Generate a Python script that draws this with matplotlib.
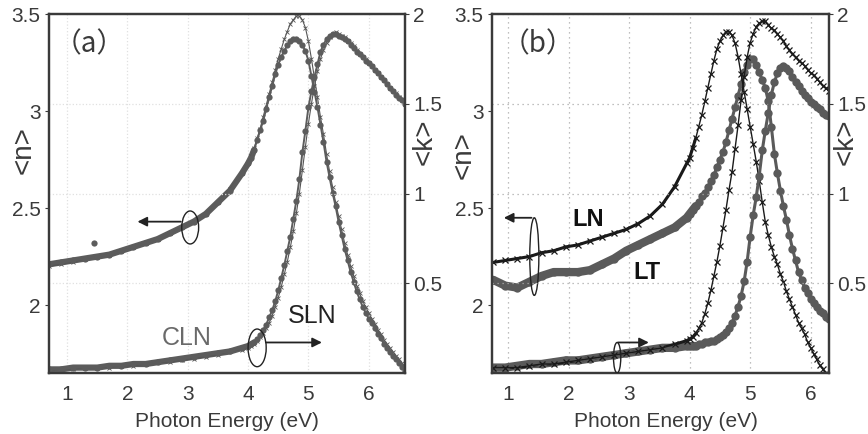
import numpy as np
import matplotlib
matplotlib.use("Agg")
import matplotlib.pyplot as plt
from matplotlib.patches import Ellipse

plt.rcParams['font.family'] = ['Liberation Sans', 'DejaVu Sans']

# ---------- data: panel (a) CLN / SLN ----------
E_a = np.concatenate([np.round(np.arange(0.7, 3.95, 0.2), 2),
                      np.round(np.arange(4.0, 6.601, 0.05), 2)])

n_cln = [2.21, 2.22, 2.23, 2.24, 2.25, 2.26, 2.28, 2.30, 2.32, 2.34, 2.37, 2.40, 2.43, 2.47, 2.53, 2.59, 2.68,
         2.73, 2.76, 2.80, 2.85, 2.90, 2.95, 3.01, 3.07, 3.13, 3.19,
         3.24, 3.28, 3.31, 3.34, 3.36, 3.37, 3.37, 3.36, 3.34, 3.31,
         3.26, 3.18, 3.10, 3.02, 2.93, 2.84, 2.74, 2.66, 2.58, 2.51,
         2.43, 2.36, 2.29, 2.23, 2.17, 2.12, 2.07, 2.03, 1.99, 1.96,
         1.93, 1.91, 1.88, 1.85, 1.83, 1.80, 1.78, 1.76, 1.74, 1.72,
         1.70, 1.68, 1.66]
n_sln = [2.20, 2.21, 2.22, 2.24, 2.25, 2.26, 2.28, 2.30, 2.32, 2.34, 2.37, 2.40, 2.43, 2.47, 2.53, 2.60, 2.68,
         2.73, 2.77, 2.81, 2.86, 2.91, 2.97, 3.03, 3.09, 3.15, 3.21,
         3.27, 3.32, 3.37, 3.41, 3.45, 3.47, 3.49, 3.49, 3.47, 3.43,
         3.36, 3.27, 3.17, 3.07, 2.97, 2.88, 2.78, 2.69, 2.61, 2.53,
         2.46, 2.39, 2.32, 2.26, 2.20, 2.15, 2.10, 2.06, 2.02, 1.99,
         1.96, 1.93, 1.90, 1.87, 1.85, 1.82, 1.80, 1.78, 1.76, 1.74,
         1.72, 1.70, 1.68]
k_cln = [0.02, 0.02, 0.03, 0.03, 0.03, 0.04, 0.04, 0.05, 0.05, 0.06, 0.07, 0.08, 0.09, 0.10, 0.11, 0.12, 0.14,
         0.15, 0.16, 0.17, 0.19, 0.21, 0.24, 0.27, 0.31, 0.35, 0.40,
         0.46, 0.53, 0.60, 0.68, 0.76, 0.86, 0.96, 1.08, 1.23, 1.35,
         1.48, 1.57, 1.65, 1.72, 1.79, 1.83, 1.86, 1.88, 1.89, 1.89,
         1.88, 1.87, 1.86, 1.85, 1.83, 1.81, 1.79, 1.78, 1.76, 1.74,
         1.73, 1.71, 1.69, 1.67, 1.65, 1.63, 1.61, 1.59, 1.57, 1.55,
         1.53, 1.52, 1.50]
k_sln = [0.01, 0.02, 0.02, 0.03, 0.03, 0.03, 0.04, 0.04, 0.05, 0.06, 0.06, 0.07, 0.08, 0.09, 0.10, 0.12, 0.13,
         0.14, 0.15, 0.16, 0.18, 0.20, 0.22, 0.25, 0.28, 0.32, 0.37,
         0.42, 0.48, 0.55, 0.62, 0.70, 0.79, 0.89, 1.00, 1.13, 1.26,
         1.39, 1.50, 1.60, 1.68, 1.75, 1.80, 1.84, 1.87, 1.89, 1.90,
         1.89, 1.88, 1.87, 1.85, 1.84, 1.82, 1.80, 1.78, 1.76, 1.75,
         1.73, 1.71, 1.69, 1.67, 1.65, 1.63, 1.61, 1.59, 1.57, 1.56,
         1.54, 1.52, 1.50]
stray_E = [1.45]
stray_n = [2.32]

# ---------- data: panel (b) LN / LT ----------
E_b = np.concatenate([np.round(np.arange(0.75, 3.96, 0.2), 2),
                      np.round(np.arange(4.0, 6.301, 0.05), 2)])

n_ln = [2.22, 2.23, 2.24, 2.25, 2.27, 2.28, 2.30, 2.31, 2.33, 2.35, 2.37, 2.39, 2.42, 2.46, 2.52, 2.61, 2.73,
        2.76, 2.81, 2.86, 2.92, 2.98, 3.05, 3.12, 3.19, 3.26, 3.32,
        3.36, 3.39, 3.41, 3.41, 3.39, 3.35, 3.28, 3.19, 3.10, 3.01,
        2.92, 2.83, 2.74, 2.64, 2.53, 2.43, 2.36, 2.30, 2.25, 2.21,
        2.16, 2.12, 2.07, 2.03, 1.99, 1.95, 1.91, 1.88, 1.85, 1.81,
        1.78, 1.75, 1.72, 1.69, 1.67, 1.65, 1.63]
k_ln = [0.03, 0.03, 0.03, 0.04, 0.05, 0.05, 0.06, 0.07, 0.08, 0.09, 0.10, 0.11, 0.12, 0.13, 0.14, 0.16, 0.18,
        0.19, 0.20, 0.22, 0.25, 0.28, 0.33, 0.39, 0.46, 0.54, 0.62,
        0.71, 0.81, 0.91, 1.02, 1.12, 1.25, 1.38, 1.52, 1.65, 1.76,
        1.84, 1.89, 1.93, 1.95, 1.96, 1.96, 1.94, 1.92, 1.91, 1.89,
        1.87, 1.85, 1.82, 1.80, 1.78, 1.76, 1.74, 1.73, 1.71, 1.69,
        1.67, 1.66, 1.64, 1.62, 1.60, 1.59, 1.57]
n_lt = [2.13, 2.10, 2.09, 2.12, 2.15, 2.17, 2.17, 2.17, 2.18, 2.21, 2.24, 2.28, 2.31, 2.34, 2.37, 2.40, 2.45,
        2.47, 2.49, 2.51, 2.53, 2.56, 2.58, 2.61, 2.64, 2.67, 2.71,
        2.75, 2.79, 2.84, 2.90, 2.96, 3.02, 3.08, 3.14, 3.20, 3.24,
        3.27, 3.27, 3.24, 3.20, 3.16, 3.12, 3.05, 2.92, 2.78, 2.68,
        2.59, 2.51, 2.44, 2.36, 2.29, 2.23, 2.17, 2.13, 2.09, 2.06,
        2.03, 2.01, 1.99, 1.97, 1.96, 1.94, 1.93]
k_lt = [0.03, 0.03, 0.04, 0.05, 0.05, 0.06, 0.07, 0.07, 0.08, 0.09, 0.10, 0.11, 0.12, 0.13, 0.14, 0.14, 0.15,
        0.15, 0.15, 0.15, 0.16, 0.16, 0.17, 0.17, 0.18, 0.18, 0.19,
        0.20, 0.21, 0.23, 0.25, 0.28, 0.32, 0.37, 0.43, 0.51, 0.62,
        0.76, 0.88, 0.98, 1.10, 1.24, 1.35, 1.45, 1.55, 1.62, 1.67,
        1.70, 1.71, 1.70, 1.68, 1.65, 1.62, 1.60, 1.57, 1.55, 1.53,
        1.51, 1.50, 1.48, 1.47, 1.45, 1.44, 1.43]

x_ticks = [1, 2, 3, 4, 5, 6]
n_ticks = [2, 2.5, 3, 3.5]
n_labels = ["2", "2.5", "3", "3.5"]
k_ticks = [0.5, 1, 1.5, 2]
k_labels = ["0.5", "1", "1.5", "2"]

TXT = '#3a3a3a'
FS = 15
GREY = '#5c5c5c'
INK = '#222222'

fig = plt.figure(figsize=(8.68, 4.34), dpi=100)
ax_a = fig.add_axes([0.0565, 0.1406, 0.410, 0.827])
ax_b = fig.add_axes([0.5668, 0.1406, 0.388, 0.827])


def setup(ax, xlim, grid_color, grid_ls):
    ax.set_xlim(*xlim)
    ax.set_ylim(1.65, 3.5)
    ax.set_xticks(x_ticks)
    ax.set_yticks(n_ticks)
    ax.set_yticklabels(n_labels)
    ax.tick_params(labelsize=FS, colors=TXT, length=3, width=0.8, pad=3)
    ax.tick_params(axis='x', length=0, pad=9)
    ax.grid(axis='x', color=grid_color, ls=grid_ls, lw=0.9)
    for s in ax.spines.values():
        s.set_color('#3a3a3a')
        s.set_linewidth(1.6)
    ax.set_xlabel("Photon Energy (eV)", fontsize=FS, color=TXT)
    ax.set_ylabel("<n>", fontsize=20, color=TXT)
    ax2 = ax.twinx()
    ax2.set_ylim(0, 2)
    ax2.set_yticks(k_ticks)
    ax2.set_yticklabels(k_labels)
    ax2.tick_params(labelsize=FS, colors=TXT, length=3, width=0.8, pad=3)
    ax2.grid(axis='y', color=grid_color, ls=grid_ls, lw=0.9)
    ax2.set_ylabel("<k>", fontsize=20, color=TXT)
    for s in ax2.spines.values():
        s.set_color('#3a3a3a')
        s.set_linewidth(1.6)
    return ax2


def arrow(ax, start, end):
    ax.annotate('', xy=end, xytext=start,
                arrowprops=dict(arrowstyle='-|>', color=INK, lw=1.3, mutation_scale=14))


# ---------- panel (a) ----------
ax_a2 = setup(ax_a, (0.7, 6.6), '#e0e0e0', ':')
flat = 20   # low-energy points drawn as a thick band, as in the scan
ax_a.plot(E_a[:flat], n_cln[:flat], color=GREY, lw=4.5, solid_capstyle='round')
ax_a.plot(E_a, n_sln, color='#555555', lw=0.8, marker='x', ms=3, mew=0.6)
ax_a.plot(E_a, n_cln, color=GREY, lw=1.4, marker='o', ms=4.5, mew=0)
ax_a.plot(stray_E, stray_n, ls='none', color=GREY, marker='o', ms=4.5, mew=0)
ax_a2.plot(E_a[:flat], k_cln[:flat], color=GREY, lw=4.5, solid_capstyle='round')
ax_a2.plot(E_a, k_sln, color='#555555', lw=0.8, marker='x', ms=3, mew=0.6)
ax_a2.plot(E_a, k_cln, color=GREY, lw=1.4, marker='o', ms=4.5, mew=0)

ax_a.text(0.112, 0.916, "（a）", transform=ax_a.transAxes, fontsize=20, color=TXT,
          ha='center', va='center', family=['Noto Sans CJK SC', 'DejaVu Sans'])
ax_a.text(0.388, 0.0975, "CLN", transform=ax_a.transAxes, fontsize=18, color='#6a6a6a',
          ha='center', va='center')
ax_a.text(0.739, 0.159, "SLN", transform=ax_a.transAxes, fontsize=18, color=INK,
          ha='center', va='center')
ax_a.add_patch(Ellipse((3.04, 2.40), 0.28, 0.17, fill=False, ec=INK, lw=1.0, zorder=5))
arrow(ax_a, (2.93, 2.43), (2.12, 2.43))
ax_a2.add_patch(Ellipse((4.15, 0.14), 0.30, 0.21, fill=False, ec=INK, lw=1.0, zorder=5))
arrow(ax_a2, (4.25, 0.17), (5.27, 0.17))

# ---------- panel (b) ----------
ax_b2 = setup(ax_b, (0.73, 6.3), '#aaaaaa', (0, (1, 3)))
ax_b.plot(E_b[:flat], n_lt[:flat], color='#5a5a5a', lw=6, solid_capstyle='round')
ax_b.plot(E_b[:flat], n_ln[:flat], color='#1a1a1a', lw=2.2)
ax_b.plot(E_b, n_lt, color='#5a5a5a', lw=2.2, marker='o', ms=6, mew=0)
ax_b.plot(E_b, n_ln, color='#1a1a1a', lw=1.0, marker='x', ms=4, mew=0.9)
ax_b2.plot(E_b[:flat], k_lt[:flat], color='#5a5a5a', lw=6, solid_capstyle='round')
ax_b2.plot(E_b[:flat], k_ln[:flat], color='#1a1a1a', lw=2.2)
ax_b2.plot(E_b, k_lt, color='#5a5a5a', lw=2.2, marker='o', ms=6, mew=0)
ax_b2.plot(E_b, k_ln, color='#1a1a1a', lw=1.0, marker='x', ms=4, mew=0.9)

ax_b.text(0.136, 0.916, "（b）", transform=ax_b.transAxes, fontsize=20, color=TXT,
          ha='center', va='center', family=['Noto Sans CJK SC', 'DejaVu Sans'])
ax_b.text(0.285, 0.429, "LN", transform=ax_b.transAxes, fontsize=17, fontweight='bold',
          color='#111111', ha='center', va='center')
ax_b.text(0.46, 0.279, "LT", transform=ax_b.transAxes, fontsize=17, fontweight='bold',
          color='#111111', ha='center', va='center')
ax_b.add_patch(Ellipse((1.43, 2.25), 0.15, 0.40, fill=False, ec=INK, lw=1.0, zorder=5))
arrow(ax_b, (1.43, 2.45), (0.88, 2.45))
ax_b2.add_patch(Ellipse((2.80, 0.085), 0.12, 0.17, fill=False, ec=INK, lw=1.0, zorder=5))
arrow(ax_b2, (2.77, 0.17), (3.37, 0.17))

# label positions
ax_a.yaxis.set_label_coords(-0.034, 0.62)
ax_a2.yaxis.set_label_coords(1.02, 0.643)
ax_b.yaxis.set_label_coords(-0.047, 0.607)
ax_b2.yaxis.set_label_coords(1.012, 0.643)
ax_a.xaxis.set_label_coords(0.50, -0.108)
ax_b.xaxis.set_label_coords(0.518, -0.108)

fig.savefig("out.png", dpi=100)
